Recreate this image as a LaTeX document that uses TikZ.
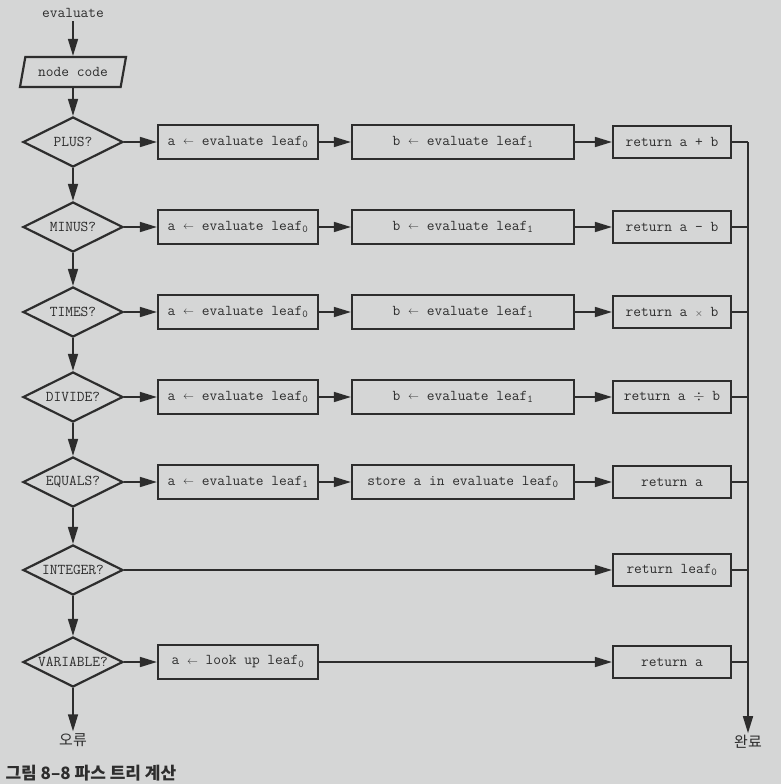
\documentclass[tikz,border=0pt]{standalone}
\usepackage{fontspec}
\newfontfamily\krfont{Noto Sans CJK KR}
\usetikzlibrary{shapes.geometric,arrows.meta}
\definecolor{paper}{RGB}{213,214,214}
\definecolor{ink}{RGB}{45,45,45}
\newcommand\getsarrow{\raisebox{0.15ex}{$\scriptstyle\leftarrow$}}
\newcommand\leafsub[1]{leaf\textsubscript{#1}}

\tikzset{
	codefont/.style={font=\ttfamily\fontsize{15}{17}\selectfont,text=ink},
	stepbox/.style={draw=ink,line width=2.2pt,minimum height=34pt,inner sep=0pt,codefont},
	abox/.style={stepbox,minimum width=160pt},
	bbox/.style={stepbox,minimum width=222pt},
	retbox/.style={stepbox,minimum width=118pt,minimum height=32pt},
	testbox/.style={diamond,aspect=2,draw=ink,line width=2.2pt,inner sep=0pt,minimum width=100pt,minimum height=50pt,codefont},
	flow/.style={ink,line width=1.6pt,-{Triangle[length=17pt,width=10pt]}},
	joinline/.style={ink,line width=1.6pt},
	krlabel/.style={font=\krfont\fontsize{15}{17}\selectfont,text=ink,inner sep=2pt}
}

\begin{document}
\begin{tikzpicture}[x=1pt,y=-1pt]
	\fill[paper] (0,0) rectangle (781,784);
	\useasboundingbox (0,0) rectangle (781,784);
	
	%%% Inizio
	\node[codefont] (start) at (73,13) {evaluate};
	\node[trapezium,trapezium left angle=60,trapezium right angle=120,trapezium stretches body,
	      draw=ink,line width=2.2pt,minimum width=106pt,minimum height=30pt,inner sep=0pt,codefont] (code) at (73,72) {node code};
	
	%%% Test
	\node[testbox] (plus) at (73,142) {PLUS?};
	\node[testbox] (minus) at (73,227) {MINUS?};
	\node[testbox] (times) at (73,312) {TIMES?};
	\node[testbox] (divide) at (73,397) {DIVIDE?};
	\node[testbox] (equals) at (73,482) {EQUALS?};
	\node[testbox] (integer) at (73,570) {INTEGER?};
	\node[testbox] (variable) at (73,662) {VARIABLE?};
	
	%%% Primo passo
	\node[abox] (aplus) at (238,142) {a \getsarrow{} evaluate \leafsub{0}};
	\node[abox] (aminus) at (238,227) {a \getsarrow{} evaluate \leafsub{0}};
	\node[abox] (atimes) at (238,312) {a \getsarrow{} evaluate \leafsub{0}};
	\node[abox] (adivide) at (238,397) {a \getsarrow{} evaluate \leafsub{0}};
	\node[abox] (aequals) at (238,482) {a \getsarrow{} evaluate \leafsub{1}};
	\node[abox] (avariable) at (238,662) {a \getsarrow{} look up \leafsub{0}};
	
	%%% Secondo passo
	\node[bbox] (bplus) at (463,142) {b \getsarrow{} evaluate \leafsub{1}};
	\node[bbox] (bminus) at (463,227) {b \getsarrow{} evaluate \leafsub{1}};
	\node[bbox] (btimes) at (463,312) {b \getsarrow{} evaluate \leafsub{1}};
	\node[bbox] (bdivide) at (463,397) {b \getsarrow{} evaluate \leafsub{1}};
	\node[bbox] (bequals) at (463,482) {store a in evaluate \leafsub{0}};
	
	%%% Return
	\node[retbox] (rplus) at (672,142) {return a + b};
	\node[retbox] (rminus) at (672,227) {return a - b};
	\node[retbox] (rtimes) at (672,312) {return a {\fontsize{10}{12}\selectfont$\times$} b};
	\node[retbox] (rdivide) at (672,397) {return a $\div$ b};
	\node[retbox] (requals) at (672,482) {return a};
	\node[retbox] (rinteger) at (672,570) {return \leafsub{0}};
	\node[retbox] (rvariable) at (672,662) {return a};
	
	%%% Uscite
	\node[krlabel] (err) at (73,740) {오류};
	\node[krlabel] (done) at (748,742) {완료};
	\coordinate (top) at (748,142);
	
	%% Frecce verticali
	\draw[flow] (start) -- (code);
	\draw[flow] (code) -- (plus);
	\draw[flow] (plus) -- (minus);
	\draw[flow] (minus) -- (times);
	\draw[flow] (times) -- (divide);
	\draw[flow] (divide) -- (equals);
	\draw[flow] (equals) -- (integer);
	\draw[flow] (integer) -- (variable);
	\draw[flow] (variable) -- (err);
	
	%% Frecce orizzontali
	\draw[flow] (plus) -- (aplus);
	\draw[flow] (aplus) -- (bplus);
	\draw[flow] (bplus) -- (rplus);
	\draw[flow] (minus) -- (aminus);
	\draw[flow] (aminus) -- (bminus);
	\draw[flow] (bminus) -- (rminus);
	\draw[flow] (times) -- (atimes);
	\draw[flow] (atimes) -- (btimes);
	\draw[flow] (btimes) -- (rtimes);
	\draw[flow] (divide) -- (adivide);
	\draw[flow] (adivide) -- (bdivide);
	\draw[flow] (bdivide) -- (rdivide);
	\draw[flow] (equals) -- (aequals);
	\draw[flow] (aequals) -- (bequals);
	\draw[flow] (bequals) -- (requals);
	\draw[flow] (integer) -- (rinteger);
	\draw[flow] (variable) -- (avariable);
	\draw[flow] (avariable) -- (rvariable);
	
	%% Raccolta a destra
	\draw[joinline] (rplus.east) -- (top);
	\draw[joinline] (rminus.east) -- (rminus.east -| top);
	\draw[joinline] (rtimes.east) -- (rtimes.east -| top);
	\draw[joinline] (rdivide.east) -- (rdivide.east -| top);
	\draw[joinline] (requals.east) -- (requals.east -| top);
	\draw[joinline] (rinteger.east) -- (rinteger.east -| top);
	\draw[joinline] (rvariable.east) -- (rvariable.east -| top);
	\draw[flow] (top) -- (top |- done.north);
	
	\node[font=\krfont\bfseries\fontsize{17}{19}\selectfont,text=ink,anchor=west] (caption) at (2,773) {그림 8–8 파스 트리 계산};
\end{tikzpicture}
\end{document}
